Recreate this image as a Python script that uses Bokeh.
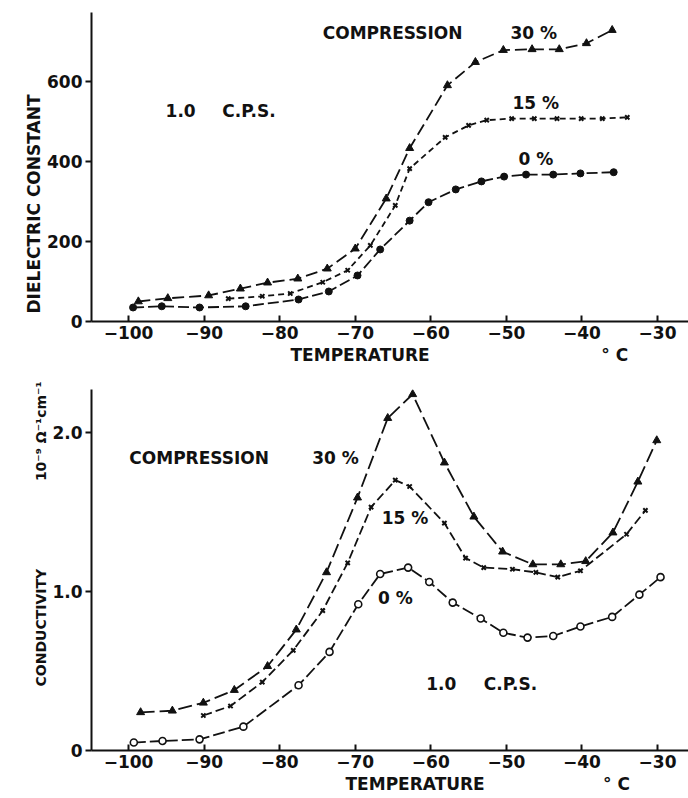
from bokeh.plotting import figure
from bokeh.models import Label, FixedTicker, Range1d, Title
from bokeh.layouts import column
from bokeh.embed import file_html
from bokeh.resources import INLINE

# ---------------- data ----------------
x_ticks = [-100, -90, -80, -70, -60, -50, -40, -30]
top_y_ticks = [0, 200, 400, 600]
bot_y_ticks = [0, 1, 2]
bot_y_tick_labels = ["0", "1.0", "2.0"]

# Dielectric constant (top panel)
top_t30 = [-98.7, -94.8, -89.4, -85.2, -81.6, -77.6, -73.7, -70.0, -65.9, -62.8,
           -57.8, -54.1, -50.4, -46.6, -43.0, -39.4, -36.0]
top_d30 = [50, 58, 65, 82, 97, 107, 132, 182, 307, 433, 590, 648, 678, 680, 680, 695, 728]

top_t15 = [-86.8, -82.3, -78.6, -74.3, -71.0, -68.0, -64.7, -62.8, -58.1, -55.0,
           -52.6, -49.3, -46.3, -43.3, -40.1, -37.3, -34.0]
top_d15 = [57, 63, 70, 98, 128, 190, 290, 382, 460, 490, 503, 507, 507, 507, 507, 507, 510]

top_t0 = [-99.4, -95.6, -90.6, -84.5, -77.5, -73.5, -69.7, -66.7, -62.8, -60.3,
          -56.7, -53.3, -50.3, -47.4, -43.8, -40.2, -35.8]
top_d0 = [35, 38, 35, 38, 55, 75, 115, 180, 252, 298, 330, 350, 362, 367, 367, 370, 373]

# Conductivity, 1e-9 ohm^-1 cm^-1 (bottom panel)
bot_t30 = [-98.4, -94.2, -90.1, -86.0, -81.6, -77.8, -73.8, -69.7, -65.7, -62.4,
           -58.2, -54.3, -50.5, -46.5, -42.8, -39.5, -35.9, -32.6, -30.1]
bot_c30 = [0.24, 0.25, 0.30, 0.38, 0.53, 0.76, 1.12, 1.59, 2.09, 2.24,
           1.81, 1.47, 1.25, 1.17, 1.17, 1.19, 1.37, 1.69, 1.95]

bot_t15 = [-90.1, -86.5, -82.3, -78.2, -74.3, -71.0, -67.9, -64.7, -62.8, -58.2,
           -55.4, -53.0, -49.2, -46.1, -43.2, -40.2, -34.1, -31.6]
bot_c15 = [0.22, 0.28, 0.43, 0.63, 0.88, 1.18, 1.53, 1.70, 1.66, 1.43,
           1.21, 1.15, 1.14, 1.12, 1.09, 1.13, 1.36, 1.51]

bot_t0 = [-99.3, -95.5, -90.6, -84.8, -77.5, -73.4, -69.6, -66.7, -63.0, -60.2,
          -57.1, -53.4, -50.4, -47.2, -43.8, -40.2, -36.0, -32.4, -29.6]
bot_c0 = [0.05, 0.06, 0.07, 0.15, 0.41, 0.62, 0.92, 1.11, 1.15, 1.06,
          0.93, 0.83, 0.74, 0.71, 0.72, 0.78, 0.84, 0.98, 1.09]

# ---------------- style ----------------
FONT = "DejaVu Sans"
INK = "#111111"
X_RANGE = (-104.9, -25.9)
NB = "\u00a0"


def make_fig(height, y_end, b_top, b_bottom, yticks):
    p = figure(width=688, height=height,
               x_range=Range1d(*X_RANGE), y_range=Range1d(0, y_end),
               output_backend="svg", toolbar_location=None,
               min_border_left=91, min_border_right=0,
               min_border_top=b_top, min_border_bottom=b_bottom)
    p.grid.visible = False
    p.outline_line_color = None
    xa = p.xaxis[0]
    xa.ticker = FixedTicker(ticks=x_ticks)
    xa.axis_line_width = 2
    xa.axis_line_color = INK
    xa.major_tick_in = 6
    xa.major_tick_out = 0
    xa.major_tick_line_width = 2
    xa.major_tick_line_color = INK
    xa.minor_tick_line_color = None
    xa.major_label_text_font = FONT
    xa.major_label_text_font_size = "17px"
    xa.major_label_text_font_style = "bold"
    xa.major_label_text_color = INK
    xa.major_label_standoff = 4
    ya = p.yaxis[0]
    ya.ticker = FixedTicker(ticks=yticks)
    ya.axis_line_width = 2
    ya.axis_line_color = INK
    ya.major_tick_in = 0
    ya.major_tick_out = 6
    ya.major_tick_line_width = 2
    ya.major_tick_line_color = INK
    ya.minor_tick_line_color = None
    ya.major_label_text_font = FONT
    ya.major_label_text_font_size = "17px"
    ya.major_label_text_font_style = "bold"
    ya.major_label_text_color = INK
    ya.major_label_standoff = 3
    return p


def label(p, x, y, text, size="17px"):
    p.add_layout(Label(x=x, y=y, text=text,
                       text_font=FONT, text_font_size=size, text_font_style="bold",
                       text_color=INK, text_align="left", text_baseline="middle"))


def side_title(p, text, place, offset, size="17px", standoff=2):
    p.add_layout(Title(text=text, align="left", offset=offset, standoff=standoff,
                       text_font=FONT, text_font_size=size, text_font_style="bold",
                       text_color=INK), place)


# ---------------- top panel ----------------
p1 = make_fig(373, 772, 12, 52, top_y_ticks)

p1.line(top_t30, top_d30, line_color=INK, line_width=1.8, line_dash="12 5")
p1.scatter(top_t30, top_d30, marker="triangle", size=8, color=INK)
p1.line(top_t15, top_d15, line_color=INK, line_width=1.8, line_dash="6 4")
p1.scatter(top_t15, top_d15, marker="x", size=6, line_color=INK, line_width=2)
p1.line(top_t0, top_d0, line_color=INK, line_width=1.8, line_dash="11 4")
p1.scatter(top_t0, top_d0, marker="circle", size=7, color=INK)

label(p1, -74.3, 720, "COMPRESSION")
label(p1, -49.45, 720, "30 %")
label(p1, -49.2, 545, "15 %")
label(p1, -48.4, 407, "0 %")
label(p1, -95.1, 527, "1.0")
label(p1, -87.6, 527, "C.P.S.")
side_title(p1, "TEMPERATURE" + NB * 29 + "° C", "below", 199)
side_title(p1, "DIELECTRIC CONSTANT", "left", 8, size="17px")

# ---------------- bottom panel ----------------
p2 = make_fig(423, 2.27, 16, 46, bot_y_ticks)
p2.yaxis[0].major_label_overrides = {t: s for t, s in zip(bot_y_ticks, bot_y_tick_labels)}

p2.line(bot_t30, bot_c30, line_color=INK, line_width=1.8, line_dash="14 5")
p2.scatter(bot_t30, bot_c30, marker="triangle", size=8, color=INK)
p2.line(bot_t15, bot_c15, line_color=INK, line_width=1.8, line_dash="9 4")
p2.scatter(bot_t15, bot_c15, marker="x", size=6, line_color=INK, line_width=2)
p2.line(bot_t0, bot_c0, line_color=INK, line_width=1.8, line_dash="12 4")
p2.scatter(bot_t0, bot_c0, marker="circle", size=7, fill_color="white",
           line_color=INK, line_width=1.6)

label(p2, -99.9, 1.84, "COMPRESSION")
label(p2, -75.7, 1.84, "30 %")
label(p2, -66.5, 1.46, "15 %")
label(p2, -67.0, 0.96, "0 %")
label(p2, -60.6, 0.42, "1.0")
label(p2, -53.0, 0.42, "C.P.S.")
side_title(p2, "TEMPERATURE" + NB * 20 + "° C", "below", 254)
side_title(p2, "CONDUCTIVITY" + NB * 18 + "10⁻⁹ Ω⁻¹cm⁻¹", "left", 64, size="14px")

layout = column(p1, p2, spacing=0)
open("out.html", "w").write(file_html(layout, INLINE))
